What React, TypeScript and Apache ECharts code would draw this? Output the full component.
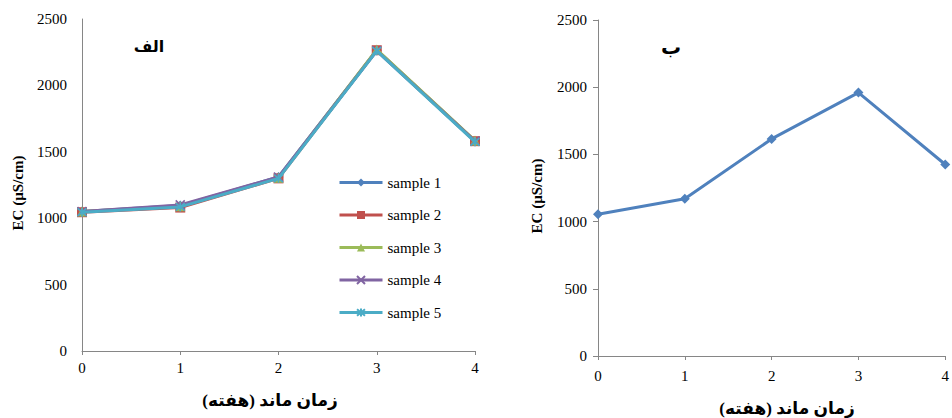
import React, { useEffect, useRef } from "react";
import * as echarts from "echarts";

// Weeks of retention time
const weeks = [0, 1, 2, 3, 4];

// Panel "الف": EC of five samples
const sample1 = [1050, 1095, 1310, 2265, 1580];
const sample2 = [1045, 1080, 1300, 2265, 1580];
const sample3 = [1050, 1090, 1305, 2270, 1585];
const sample4 = [1050, 1100, 1310, 2260, 1580];
const sample5 = [1045, 1085, 1300, 2260, 1575];

// Panel "ب": single series
const panelB = [1055, 1170, 1615, 1960, 1425];

const sampleNames = ["sample 1", "sample 2", "sample 3", "sample 4", "sample 5"];
const yTicks = [0, 500, 1000, 1500, 2000, 2500];

const FONT = "'Liberation Serif', 'Times New Roman', 'DejaVu Sans', serif";
const AXIS = "#868686";
const colors = ["#4F81BD", "#C0504D", "#9BBB59", "#8064A2", "#4BACC6"];
const symbols = [
  "diamond",
  "rect",
  "triangle",
  "path://M0,0L10,10M10,0L0,10",
  "path://M0,0L10,10M10,0L0,10M5,-1L5,11",
];
const symbolSizes = [10, 10, 10, 9, 9];

const pairs = (ys: number[]) => weeks.map((w, i) => [w, ys[i]]);
const plain = (v: number) => String(v);

export default function App() {
  const ref = useRef<HTMLDivElement>(null);
  useEffect(() => {
    if (!ref.current) return;
    const chart = echarts.init(ref.current, null, { renderer: "svg" });

    const xAxisBase = (gridIndex: number, labelMargin: number) => ({
      type: "value" as const,
      gridIndex,
      min: 0,
      max: 4,
      interval: 1,
      axisLine: { show: true, lineStyle: { color: AXIS, width: 1 } },
      axisTick: { show: true, inside: false, length: 4, lineStyle: { color: AXIS } },
      splitLine: { show: false },
      axisLabel: {
        color: "#000",
        fontFamily: FONT,
        fontSize: 15,
        margin: labelMargin,
        formatter: plain,
      },
    });
    const yAxisBase = (gridIndex: number, ticks: boolean) => ({
      type: "value" as const,
      gridIndex,
      min: yTicks[0],
      max: yTicks[yTicks.length - 1],
      interval: 500,
      axisLine: { show: true, lineStyle: { color: AXIS, width: 1 } },
      axisTick: { show: ticks, length: 5, lineStyle: { color: AXIS } },
      splitLine: { show: false },
      axisLabel: {
        color: "#000",
        fontFamily: FONT,
        fontSize: 15,
        margin: ticks ? 11 : 15,
        formatter: plain,
      },
    });

    const sets = [sample1, sample2, sample3, sample4, sample5];
    const leftSeries = sets.map((d, i) => ({
      name: sampleNames[i],
      type: "line" as const,
      xAxisIndex: 0,
      yAxisIndex: 0,
      data: pairs(d),
      symbol: symbols[i],
      symbolSize: symbolSizes[i],
      showAllSymbol: true,
      lineStyle: { color: colors[i], width: 3 },
      itemStyle: { color: colors[i], borderColor: colors[i], borderWidth: i >= 3 ? 1.6 : 0 },
      z: 2 + i,
    }));

    const titleText = (x: number, y: number, text: string, bold = true, size = 14) => ({
      type: "text" as const,
      x,
      y,
      style: {
        text,
        fill: "#000",
        font: `${bold ? "bold " : ""}${size}px ${FONT}`,
        textAlign: "center" as const,
        textVerticalAlign: "middle" as const,
      },
    });
    const yName = (x: number, y: number) => ({
      type: "text" as const,
      x,
      y,
      rotation: Math.PI / 2,
      style: {
        text: "EC (µS/cm)",
        fill: "#000",
        font: `bold 15px ${FONT}`,
        textAlign: "center" as const,
        textVerticalAlign: "middle" as const,
      },
    });

    chart.setOption({
      animation: false,
      backgroundColor: "#fff",
      grid: [
        { left: 82, top: 19, width: 393, height: 332 },
        { left: 598, top: 20, width: 353, height: 336 },
      ],
      xAxis: [xAxisBase(0, 9), xAxisBase(1, 12)],
      yAxis: [yAxisBase(0, false), yAxisBase(1, true)],
      legend: {
        orient: "vertical",
        left: 333,
        top: 170,
        itemWidth: 43,
        itemHeight: 10,
        itemGap: 17.5,
        data: sampleNames,
        lineStyle: { width: 3 },
        textStyle: { fontFamily: FONT, fontSize: 15, color: "#000" },
      },
      graphic: [
        titleText(149, 46, "الف", true, 16),
        titleText(671, 47, "ب", true, 20),
        titleText(270, 400, "زمان ماند (هفته)", true, 17),
        titleText(787, 408, "زمان ماند (هفته)", true, 17),
        yName(18, 193),
        yName(537, 196),
      ],
      series: [
        ...leftSeries,
        {
          name: "ب",
          type: "line",
          xAxisIndex: 1,
          yAxisIndex: 1,
          data: pairs(panelB),
          symbol: "diamond",
          symbolSize: 10,
          showAllSymbol: true,
          lineStyle: { color: colors[0], width: 3 },
          itemStyle: { color: colors[0] },
        },
      ],
    });
    return () => chart.dispose();
  }, []);

  return (
    <div
      ref={ref}
      style={{ position: "fixed", left: 0, top: 0, width: 952, height: 418, background: "#fff" }}
    />
  );
}
